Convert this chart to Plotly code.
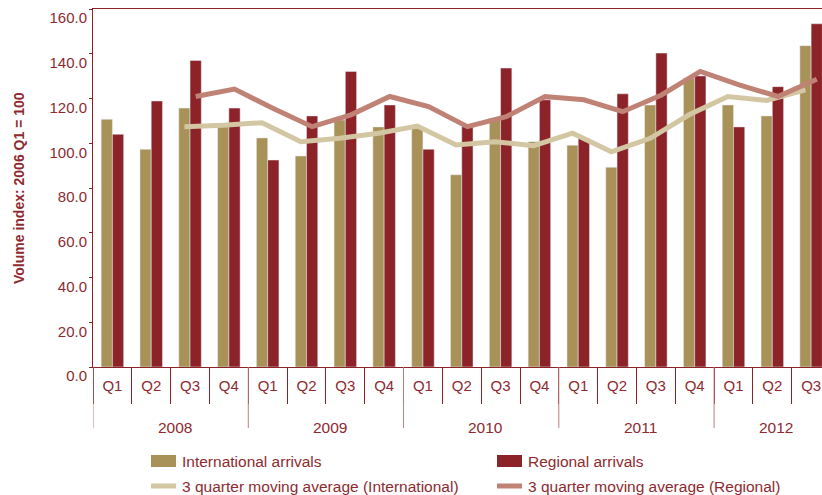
import plotly.graph_objects as go

# Quarterly tourism volume index (2006 Q1 = 100)
years = ["2008"] * 4 + ["2009"] * 4 + ["2010"] * 4 + ["2011"] * 4 + ["2012"] * 3
quarters = ["Q1", "Q2", "Q3", "Q4"] * 4 + ["Q1", "Q2", "Q3"]

international = [110.7, 97.3, 115.7, 109.0,
                 102.4, 94.3, 110.4, 107.3,
                 106.7, 85.9, 111.2, 100.7,
                 99.1, 89.3, 117.1, 129.1,
                 117.1, 112.2, 143.6]
regional = [104.0, 118.9, 137.0, 115.7,
            92.5, 112.2, 132.1, 117.1,
            97.3, 107.4, 133.6, 119.4,
            102.2, 122.1, 140.3, 130.1,
            107.3, 125.3, 153.4]
ma_international = [None, None, 107.4, 108.0,
                    109.2, 100.7, 102.2, 104.5,
                    107.7, 99.2, 100.7, 98.9,
                    104.5, 96.2, 102.2, 112.7,
                    120.9, 119.1, 123.9]
ma_regional = [None, None, 120.9, 124.2,
               115.5, 107.4, 112.7, 120.9,
               116.4, 107.4, 111.9, 120.9,
               119.4, 114.1, 121.6, 132.1,
               126.1, 120.9, 128.6]

legend_labels = ["International arrivals", "Regional arrivals",
                 "3 quarter moving average (International)",
                 "3 quarter moving average (Regional)"]

C_INTL = "#A89258"
C_REG = "#8B2328"
C_MA_INTL = "#D3C6A2"
C_MA_REG = "#C08275"
C_TEXT = "#8E2A2F"
C_DIV = "#C07E80"
FONT = "Liberation Sans, Arial, sans-serif"

W, H = 822, 495
ML, MT, MB = 93, 9, 128
PW, PH = W - ML, H - MT - MB
AXIS_Y = H - MB                   # pixel row of the value axis baseline
YEAR_Y = 428                      # pixel row where the year dividers end


def px_x(p):
    return (p - ML) / PW


def px_y(p):
    return (AXIS_Y - p) / PH


# positions along the quarter axis
pos = list(range(len(quarters)))
quarter_bounds = [p - 0.5 for p in pos] + [pos[-1] + 0.5]

year_names = list(dict.fromkeys(years))
year_idx = {y: [i for i, v in enumerate(years) if v == y] for y in year_names}
year_centers = [sum(v) / len(v) for v in year_idx.values()]
year_bounds = [v[0] - 0.5 for v in year_idx.values()]

fig = go.Figure()
fig.add_trace(go.Bar(x=pos, y=international, name=legend_labels[0],
                     marker_color=C_INTL, offsetgroup="intl"))
fig.add_trace(go.Bar(x=pos, y=regional, name=legend_labels[1],
                     marker_color=C_REG, offsetgroup="reg"))
fig.add_trace(go.Scatter(x=pos, y=ma_international, name=legend_labels[2],
                         mode="lines", line=dict(color=C_MA_INTL, width=5),
                         offsetgroup="intl"))
fig.add_trace(go.Scatter(x=pos, y=ma_regional, name=legend_labels[3],
                         mode="lines", line=dict(color=C_MA_REG, width=5),
                         offsetgroup="reg"))

shapes = []
annotations = []

# Year dividers and year labels under the quarter labels
for b in year_bounds:
    shapes.append(dict(type="line", xref="x", yref="paper",
                       x0=b, x1=b, y0=0, y1=px_y(YEAR_Y),
                       line=dict(color=C_DIV, width=1)))
for c, name in zip(year_centers, year_names):
    annotations.append(dict(xref="x", yref="paper", x=c, y=px_y(427),
                            xanchor="center", yanchor="middle", xshift=4,
                            text=name, showarrow=False,
                            font=dict(family=FONT, size=15.5, color=C_TEXT)))

# Hand-drawn legend below the axis
legend_items = [
    (151, 461, "bar", C_INTL, legend_labels[0]),
    (497, 461, "bar", C_REG, legend_labels[1]),
    (151, 486, "line", C_MA_INTL, legend_labels[2]),
    (497, 486, "line", C_MA_REG, legend_labels[3]),
]
for x0, yc, kind, col, label in legend_items:
    half = 6 if kind == "bar" else 2.5
    shapes.append(dict(type="rect", xref="paper", yref="paper",
                       x0=px_x(x0), x1=px_x(x0 + 25),
                       y0=px_y(yc + half), y1=px_y(yc - half),
                       fillcolor=col, line=dict(width=0)))
    annotations.append(dict(xref="paper", yref="paper",
                            x=px_x(x0 + 29), y=px_y(yc),
                            xanchor="left", yanchor="middle",
                            text=label, showarrow=False,
                            font=dict(family=FONT, size=15.5, color=C_TEXT)))

annotations.append(dict(xref="paper", yref="paper",
                        x=px_x(19), y=0.5, textangle=-90,
                        xanchor="center", yanchor="middle",
                        text="<b>Volume index: 2006 Q1 = 100</b>",
                        showarrow=False,
                        font=dict(family=FONT, size=14, color=C_TEXT)))

tickfont = dict(family=FONT, size=15, color=C_TEXT)

fig.update_layout(
    width=W, height=H,
    margin=dict(l=ML, r=0, t=MT, b=MB, pad=0),
    paper_bgcolor="white", plot_bgcolor="white",
    barmode="group", bargap=0.42, bargroupgap=0,
    scattermode="group", scattergap=0.42,
    showlegend=False,
    font=dict(family=FONT, size=15, color=C_TEXT),
    shapes=shapes, annotations=annotations,
    # quarter axis: labels under each bar pair, boundary ticks between quarters
    xaxis=dict(
        range=[-0.5, 18.28],
        showline=True, linecolor=C_REG, linewidth=1, mirror=True,
        showgrid=False, zeroline=False,
        tickmode="array", tickvals=pos, ticktext=quarters, ticks="",
        ticklabelstandoff=5,
        minor=dict(tickmode="array", tickvals=quarter_bounds, ticks="outside",
                   ticklen=36, tickcolor=C_REG, tickwidth=1, showgrid=False),
        tickfont=tickfont,
    ),
    yaxis=dict(
        range=[0, 160], dtick=20, tickformat=".1f",
        showline=True, linecolor=C_REG, linewidth=1,
        showgrid=False, zeroline=False,
        ticks="outside", ticklen=3, tickcolor=C_REG,
        ticklabelshift=9, ticklabelstandoff=-1,
        tickfont=tickfont,
    ),
)

fig.write_html("out.html")
